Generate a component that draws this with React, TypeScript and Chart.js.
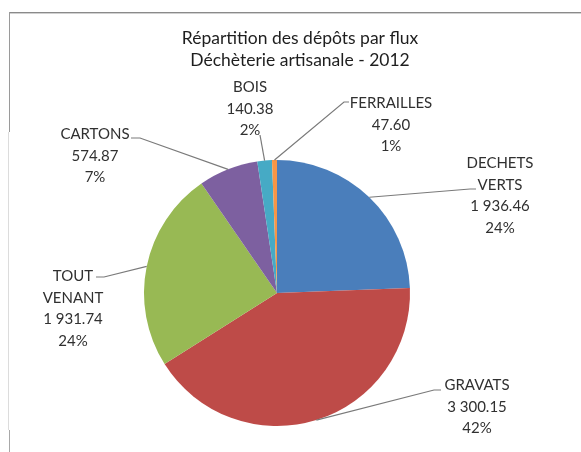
import React, { useEffect, useRef } from "react";
import { Chart, registerables } from "chart.js";

Chart.register(...registerables);

// ---- data ----
const categories = ["DECHETS VERTS", "GRAVATS", "TOUT VENANT", "CARTONS", "BOIS", "FERRAILLES"];
const values = [1936.46, 3300.15, 1931.74, 574.87, 140.38, 47.6];
const titleLines = ["Répartition des dépôts par flux", "Déchèterie artisanale - 2012"];
const labelNameLines = [["DECHETS", "VERTS"], ["GRAVATS"], ["TOUT", "VENANT"], ["CARTONS"], ["BOIS"], ["FERRAILLES"]];

// ---- styles / layout ----
const colors = ["#4A7EBB", "#BE4B48", "#98B954", "#7D60A0", "#46AAC5", "#F79646"];
const FONT = "Lato, 'Open Sans', sans-serif";
const FONT_SIZE = 15;
const TITLE_SIZE = 17.5;
const LINE_H = 21.7;
// label block: centre x offset, first line y offset (relative to pie centre)
const labelOffsets = [
  [223, -130],
  [200, 92],
  [-204, -17],
  [-182, -159],
  [-27, -206],
  [114, -190],
];
// leader line end (near the text), relative to pie centre, and elbow dx
const leaderEnds = [
  [199, -104, -6],
  [164, 97, -7],
  [-181, -16, 8],
  [-146, -155, 9],
  [-17, -158, 0],
  [72, -191, -5],
];

function fmt(v: number): string {
  const [i, d] = v.toFixed(2).split(".");
  return i.replace(/\B(?=(\d{3})+(?!\d))/g, " ") + "." + d;
}

const decorPlugin = {
  id: "decor",
  afterDraw(chart: any) {
    const ctx: CanvasRenderingContext2D = chart.ctx;
    const W = chart.width;
    const H = chart.height;
    ctx.save();
    // frame
    ctx.lineWidth = 1;
    ctx.strokeStyle = "#8a8a8a";
    ctx.beginPath();
    ctx.moveTo(9, 12.5);
    ctx.lineTo(W, 12.5);
    ctx.stroke();
    ctx.strokeStyle = "#d0d0d0";
    ctx.beginPath();
    ctx.moveTo(9, 13.5);
    ctx.lineTo(W, 13.5);
    ctx.stroke();
    ctx.strokeStyle = "#9a9a9a";
    ctx.beginPath();
    ctx.moveTo(9.5, 12);
    ctx.lineTo(9.5, 132);
    ctx.stroke();
    ctx.strokeStyle = "#dcdcdc";
    ctx.beginPath();
    ctx.moveTo(8.5, 132);
    ctx.lineTo(8.5, 430);
    ctx.stroke();
    ctx.strokeStyle = "#a8a8a8";
    ctx.beginPath();
    ctx.moveTo(9.5, 430);
    ctx.lineTo(9.5, H);
    ctx.stroke();

    // title
    ctx.fillStyle = "#1e1e1e";
    ctx.font = `${TITLE_SIZE}px ${FONT}`;
    ctx.textAlign = "center";
    ctx.textBaseline = "middle";
    ctx.fillText(titleLines[0], 300, 38);
    ctx.fillText(titleLines[1], 300, 60);

    const meta = chart.getDatasetMeta(0);
    const total = values.reduce((a, b) => a + b, 0);
    meta.data.forEach((arc: any, i: number) => {
      const cx = arc.x;
      const cy = arc.y;
      const r = arc.outerRadius;
      const mid = (arc.startAngle + arc.endAngle) / 2;
      const ex = cx + Math.cos(mid) * r;
      const ey = cy + Math.sin(mid) * r;
      const [lx, ly, elb] = leaderEnds[i];
      const tx = cx + lx;
      const ty = cy + ly;
      ctx.strokeStyle = "#7a7a7a";
      ctx.lineWidth = 1.2;
      ctx.beginPath();
      ctx.moveTo(ex, ey);
      ctx.lineTo(tx + elb, ty);
      ctx.lineTo(tx, ty);
      ctx.stroke();

      const lines = [...labelNameLines[i], fmt(values[i]), Math.round((values[i] / total) * 100) + "%"];
      const [ox, oy] = labelOffsets[i];
      ctx.fillStyle = "#303030";
      ctx.font = `${FONT_SIZE}px ${FONT}`;
      ctx.textAlign = "center";
      ctx.textBaseline = "middle";
      lines.forEach((t, k) => {
        ctx.fillText(t, cx + ox, cy + oy + k * LINE_H);
      });
    });
    ctx.restore();
  },
};

export default function App() {
  const ref = useRef<HTMLCanvasElement>(null);
  useEffect(() => {
    if (!ref.current) return;
    const chart = new Chart(ref.current, {
      type: "pie",
      data: {
        labels: categories,
        datasets: [
          {
            data: values,
            backgroundColor: colors,
            borderWidth: 0,
            hoverOffset: 0,
          },
        ],
      },
      options: {
        responsive: false,
        maintainAspectRatio: false,
        animation: false,
        events: [],
        layout: { padding: { left: 144, top: 160, right: 171, bottom: 26 } },
        plugins: {
          legend: { display: false },
          title: { display: false },
          tooltip: { enabled: false },
        },
      },
      plugins: [decorPlugin],
    });
    return () => chart.destroy();
  }, []);
  return (
    <div style={{ position: "absolute", left: 0, top: 0, width: 581, height: 452, background: "#fff" }}>
      <canvas ref={ref} width={581} height={452} />
    </div>
  );
}
